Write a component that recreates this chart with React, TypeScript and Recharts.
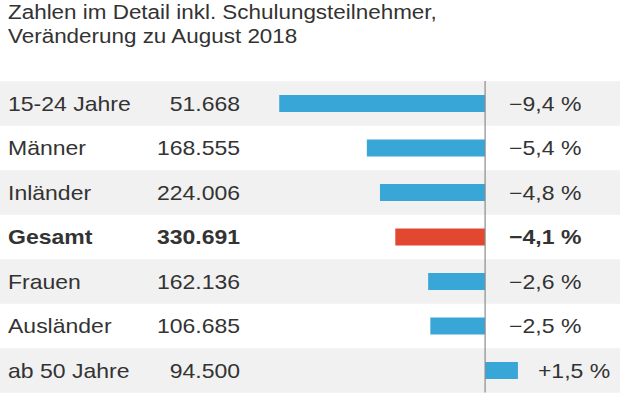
import React from "react";
import { BarChart, Bar, XAxis, YAxis, Cell, LabelList, ReferenceLine } from "recharts";

const categories = ["15-24 Jahre", "Männer", "Inländer", "Gesamt", "Frauen", "Ausländer", "ab 50 Jahre"];
const totals = [51668, 168555, 224006, 330691, 162136, 106685, 94500];
const changes = [-9.4, -5.4, -4.8, -4.1, -2.6, -2.5, 1.5];

const TITLE = ["Zahlen im Detail inkl. Schulungsteilnehmer,", "Veränderung zu August 2018"];

const W = 620;
const H = 395;
const TOP = 81;
const BOTTOM = 2.5;
const ROW_H = (H - TOP - BOTTOM) / categories.length;
const STRETCH = 1.15;
const FONT = "'Liberation Sans', Arial, Helvetica, sans-serif";
const TEXT = "#333";
const BLUE = "#39a6d8";
const RED = "#e2472f";

const fmtNum = (n: number) => String(n).replace(/\B(?=(\d{3})+(?!\d))/g, ".");
const fmtPct = (v: number) =>
  (v < 0 ? "\u2212" : "+") + Math.abs(v).toFixed(1).replace(".", ",") + " %";

const data = categories.map((name, i) => ({
  name,
  total: totals[i],
  change: changes[i],
}));

const isBold = (i: number) => categories[i] === "Gesamt";

function Txt({ x, y, anchor, bold, children }: any) {
  return (
    <text
      transform={`translate(${x},${y}) scale(${STRETCH},1)`}
      textAnchor={anchor}
      fontFamily={FONT}
      fontSize={20}
      fontWeight={bold ? 700 : 400}
      fill={TEXT}
    >
      {children}
    </text>
  );
}

const rowBackground = (props: any) => {
  const { index, y, height } = props;
  if (index % 2 === 1) return <g key={`bg-${index}`} />;
  const cy = y + height / 2;
  return <rect key={`bg-${index}`} x={0} y={cy - ROW_H / 2} width={W} height={ROW_H} fill="#f1f1f1" />;
};

const nameLabel = (props: any) => {
  const { y, height, index, value } = props;
  return (
    <Txt x={8} y={y + height / 2 + 7} anchor="start" bold={isBold(index)}>
      {value}
    </Txt>
  );
};

const totalLabel = (props: any) => {
  const { y, height, index, value } = props;
  return (
    <Txt x={240} y={y + height / 2 + 7} anchor="end" bold={isBold(index)}>
      {fmtNum(value)}
    </Txt>
  );
};

const pctLabel = (props: any) => {
  const { x, y, width, height, index, value } = props;
  const end = Math.max(x, x + width);
  const tx = value < 0 ? end + 24 : end + 20;
  return (
    <Txt x={tx} y={y + height / 2 + 7} anchor="start" bold={isBold(index)}>
      {fmtPct(value)}
    </Txt>
  );
};

export default function App() {
  return (
    <div style={{ position: "absolute", left: 0, top: 0, width: W, height: H, background: "#fff", overflow: "hidden" }}>
      {TITLE.map((t, i) => (
        <div
          key={t}
          style={{
            position: "absolute",
            left: 8,
            top: 1 + i * 23.5,
            fontFamily: FONT,
            fontSize: 19.5,
            lineHeight: "22px",
            color: TEXT,
            whiteSpace: "nowrap",
            transform: `scaleX(${STRETCH})`,
            transformOrigin: "left top",
          }}
        >
          {t}
        </div>
      ))}
      <BarChart
        width={W}
        height={H}
        data={data}
        layout="vertical"
        margin={{ top: TOP, right: 0, bottom: BOTTOM, left: 0 }}
        barSize={17}
      >
        <XAxis type="number" hide domain={[-22.15, 6.16]} allowDataOverflow />
        <YAxis type="category" dataKey="name" hide width={0} />
        <Bar dataKey="change" isAnimationActive={false} background={rowBackground}>
          {data.map((d) => (
            <Cell key={d.name} fill={d.name === "Gesamt" ? RED : BLUE} />
          ))}
          <LabelList dataKey="name" content={nameLabel} />
          <LabelList dataKey="total" content={totalLabel} />
          <LabelList dataKey="change" content={pctLabel} />
        </Bar>
        <ReferenceLine x={0} stroke="#8a8a8a" strokeWidth={1.2} />
      </BarChart>
    </div>
  );
}
